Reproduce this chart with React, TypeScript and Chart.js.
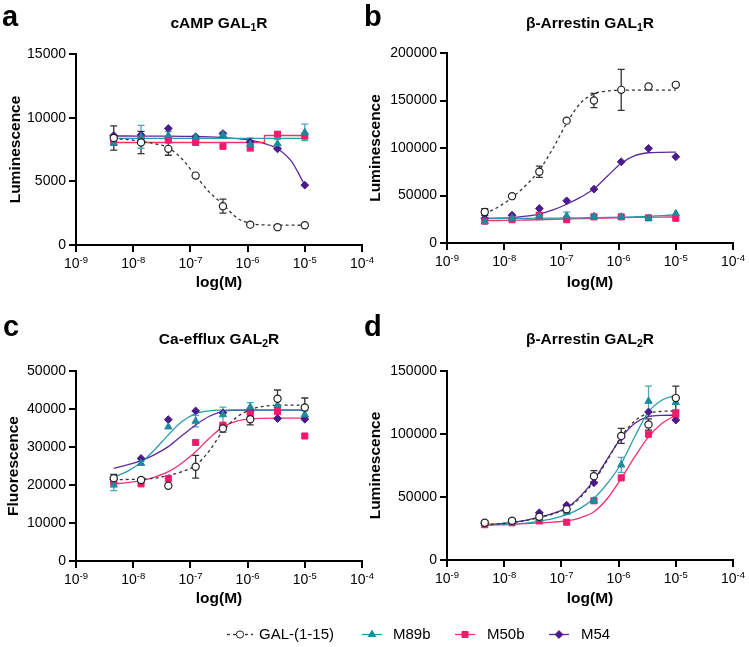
import React, { useEffect, useRef } from 'react';
import { Chart, registerables } from 'chart.js';

Chart.register(...registerables);

const FONT = '"Liberation Sans", Arial, Helvetica, sans-serif';

// ---------- shared axes data ----------
const LOG_X = [-8.34, -7.863, -7.386, -6.908, -6.431, -5.954, -5.477, -5.0];
const CURVE_X = [-8.34, -8.102, -7.863, -7.625, -7.386, -7.147, -6.908, -6.67, -6.431, -6.193, -5.954, -5.716, -5.477, -5.239, -5.0];
const X_TICK_EXPONENTS = [-9, -8, -7, -6, -5, -4];
const SERIES_NAMES = ['GAL-(1-15)', 'M89b', 'M50b', 'M54'];

// ---------- panel a : cAMP GAL1R ----------
const A_GAL = [8400, 8050, 7550, 5450, 3050, 1600, 1400, 1550];
const A_GAL_ERR = [950, 880, 500, 0, 550, 0, 0, 0];
const A_M89B = [8000, 8500, 8600, 8450, 8650, 7900, 7950, 8850];
const A_M89B_ERR = [0, 900, 300, 0, 200, 500, 350, 650];
const A_M50B = [8050, 8300, 8250, 8050, 7750, 7700, 8700, 8550];
const A_M50B_ERR = [0, 0, 0, 0, 0, 300, 0, 0];
const A_M54 = [8600, 8650, 9150, 8500, 8750, 8100, 7550, 4700];
const A_M54_ERR = [0, 0, 0, 0, 0, 0, 0, 0];
const A_GAL_FIT = [8350, 8280, 8150, 7950, 7650, 6750, 5450, 4150, 3200, 2150, 1700, 1580, 1560, 1555, 1550];
const A_M89B_FIT_X = [-8.34, -5.0];
const A_M89B_FIT = [8370, 8370];
const A_M50B_FIT_X = [-8.34, -5.71, -5.705, -5.0];
const A_M50B_FIT = [8050, 8050, 8600, 8600];
const A_M54_FIT = [8560, 8560, 8555, 8550, 8545, 8535, 8520, 8490, 8440, 8360, 8230, 7980, 7560, 6600, 4700];

// ---------- panel b : beta-Arrestin GAL1R ----------
const B_GAL = [32700, 49300, 75000, 128800, 150000, 161200, 164700, 166500];
const B_GAL_ERR = [3500, 0, 6000, 0, 7400, 21500, 0, 0];
const B_M89B = [22500, 26000, 28500, 28500, 28000, 27500, 26000, 31000];
const B_M89B_ERR = [0, 0, 4000, 4000, 2000, 0, 0, 0];
const B_M50B = [23000, 24500, 29000, 24500, 27500, 27500, 26500, 26000];
const B_M50B_ERR = [0, 0, 3000, 0, 0, 0, 0, 0];
const B_M54 = [26000, 29300, 36300, 44400, 56700, 85500, 99600, 90800];
const B_M54_ERR = [0, 0, 0, 0, 0, 0, 0, 0];
const B_GAL_FIT = [31000, 38000, 48000, 60500, 76500, 99700, 126000, 147000, 157000, 160000, 160800, 161000, 161000, 161000, 161000];
const B_M89B_FIT = [25800, 25850, 25900, 26000, 26100, 26200, 26300, 26500, 26700, 26900, 27200, 27600, 28100, 28800, 29800];
const B_M50B_FIT = [23500, 23700, 23900, 24200, 24500, 24800, 25200, 25600, 26000, 26300, 26600, 26900, 27100, 27300, 27400];
const B_M54_FIT = [25700, 26100, 26800, 28200, 30500, 34800, 40800, 48000, 57000, 70500, 84000, 92000, 95000, 95500, 95600];

// ---------- panel c : Ca-efflux GAL2R ----------
const C_GAL = [21800, 21300, 19800, 24800, 34900, 37300, 42700, 40400];
const C_GAL_ERR = [1000, 500, 0, 3000, 1000, 1500, 2300, 2500];
const C_M89B = [20000, 25700, 35300, 36800, 38500, 40500, 41000, 38500];
const C_M89B_ERR = [1500, 500, 0, 1500, 2000, 1200, 0, 1000];
const C_M50B = [20800, 20300, 21700, 31200, 35700, 38700, 39300, 32900];
const C_M50B_ERR = [0, 0, 0, 0, 0, 0, 0, 0];
const C_M54 = [21500, 27000, 37200, 39500, 39000, 39500, 37500, 37300];
const C_M54_ERR = [0, 0, 0, 0, 0, 0, 0, 0];
const C_GAL_FIT = [21400, 21450, 21550, 21800, 22500, 23500, 25200, 29000, 34200, 37800, 39800, 40700, 41000, 41000, 41000];
const C_M89B_FIT = [22000, 23600, 25900, 29300, 33200, 36700, 38800, 39500, 39700, 39750, 39750, 39750, 39750, 39750, 39750];
const C_M50B_FIT = [20300, 20600, 21150, 22100, 23500, 25800, 28750, 32300, 35300, 36800, 37400, 37550, 37600, 37600, 37600];
const C_M54_FIT = [24400, 25300, 26400, 28000, 30100, 33000, 35800, 38100, 39400, 39650, 39700, 39700, 39700, 39700, 39700];

// ---------- panel d : beta-Arrestin GAL2R ----------
const D_GAL = [29600, 31100, 34300, 40200, 66500, 98500, 107500, 128500];
const D_GAL_ERR = [1500, 1500, 2000, 2000, 4500, 6000, 4500, 9500];
const D_M89B = [29000, 30500, 33000, 38000, 47000, 75500, 126000, 125000];
const D_M89B_ERR = [0, 0, 0, 0, 1500, 6000, 12000, 0];
const D_M50B = [28000, 29500, 31000, 30000, 47000, 65200, 99800, 116000];
const D_M50B_ERR = [0, 0, 0, 0, 0, 0, 0, 3000];
const D_M54 = [29000, 30500, 37500, 43500, 61300, 97500, 117500, 111000];
const D_M54_ERR = [0, 0, 0, 0, 0, 0, 0, 0];
const D_GAL_FIT = [28000, 28700, 29700, 31300, 33700, 36500, 41000, 49500, 62500, 79500, 98000, 110500, 116500, 118000, 118300];
const D_M89B_FIT = [27500, 27800, 28300, 29200, 30800, 32800, 36000, 41000, 49000, 61000, 76600, 98000, 117500, 127000, 130700];
const D_M50B_FIT = [28000, 28200, 28500, 28900, 29400, 30000, 31000, 33500, 38300, 49000, 64700, 82000, 97700, 108500, 114900];
const D_M54_FIT = [28000, 28700, 29800, 31500, 34000, 37000, 41500, 50500, 63400, 80500, 97000, 108500, 113800, 114800, 114900];

// ---------- styles ----------
const STYLES = [
  { color: '#222222', line: '#333333', err: '#333333', fill: '#ffffff', pointStyle: 'circle', radius: 3.6, dash: [3, 3] },
  { color: '#1F8A9E', line: '#2B9AAE', err: '#45A9BC', fill: '#1F8A9E', pointStyle: 'triangle', radius: 4.2, dash: [] },
  { color: '#F5196E', line: '#F5306F', err: '#F5306F', fill: '#F5196E', pointStyle: 'rect', radius: 4.3, dash: [] },
  { color: '#4B1A8C', line: '#5A2A9C', err: '#5A2A9C', fill: '#4B1A8C', pointStyle: 'rectRot', radius: 3.9, dash: [] },
];

function series(vals: number[][], errs: number[][], fitX: number[][], fitY: number[][]) {
  return { vals, errs, fitX, fitY };
}

const PANELS = [
  {
    key: 'a', letter: 'a', letterPos: [2, 26], title: [['cAMP GAL', 0], ['1', 1], ['R', 0]], titlePos: [219, 28],
    canvas: { left: 0, top: 0, w: 375, h: 300 }, area: { left: 76, top: 54, right: 362, bottom: 245 },
    yMax: 15000, yStep: 5000, yTitle: 'Luminescence', yTitleCX: 15, xTitleCY: 283,
    data: series([A_GAL, A_M89B, A_M50B, A_M54], [A_GAL_ERR, A_M89B_ERR, A_M50B_ERR, A_M54_ERR],
      [CURVE_X, A_M89B_FIT_X, A_M50B_FIT_X, CURVE_X], [A_GAL_FIT, A_M89B_FIT, A_M50B_FIT, A_M54_FIT]),
  },
  {
    key: 'b', letter: 'b', letterPos: [364, 26], title: [['β-Arrestin GAL', 0], ['1', 1], ['R', 0]], titlePos: [590, 28],
    canvas: { left: 362, top: 0, w: 387, h: 300 }, area: { left: 447, top: 53, right: 733, bottom: 243 },
    yMax: 200000, yStep: 50000, yTitle: 'Luminescence', yTitleCX: 375.5, xTitleCY: 283,
    data: series([B_GAL, B_M89B, B_M50B, B_M54], [B_GAL_ERR, B_M89B_ERR, B_M50B_ERR, B_M54_ERR],
      [CURVE_X, CURVE_X, CURVE_X, CURVE_X], [B_GAL_FIT, B_M89B_FIT, B_M50B_FIT, B_M54_FIT]),
  },
  {
    key: 'c', letter: 'c', letterPos: [3, 336], title: [['Ca-efflux GAL', 0], ['2', 1], ['R', 0]], titlePos: [219, 344],
    canvas: { left: 0, top: 300, w: 375, h: 310 }, area: { left: 76, top: 371, right: 362, bottom: 561 },
    yMax: 50000, yStep: 10000, yTitle: 'Fluorescence', yTitleCX: 13.5, xTitleCY: 599,
    data: series([C_GAL, C_M89B, C_M50B, C_M54], [C_GAL_ERR, C_M89B_ERR, C_M50B_ERR, C_M54_ERR],
      [CURVE_X, CURVE_X, CURVE_X, CURVE_X], [C_GAL_FIT, C_M89B_FIT, C_M50B_FIT, C_M54_FIT]),
  },
  {
    key: 'd', letter: 'd', letterPos: [364, 336], title: [['β-Arrestin GAL', 0], ['2', 1], ['R', 0]], titlePos: [590, 344],
    canvas: { left: 362, top: 300, w: 387, h: 310 }, area: { left: 447, top: 371, right: 733, bottom: 560 },
    yMax: 150000, yStep: 50000, yTitle: 'Luminescence', yTitleCX: 375.5, xTitleCY: 599,
    data: series([D_GAL, D_M89B, D_M50B, D_M54], [D_GAL_ERR, D_M89B_ERR, D_M50B_ERR, D_M54_ERR],
      [CURVE_X, CURVE_X, CURVE_X, CURVE_X], [D_GAL_FIT, D_M89B_FIT, D_M50B_FIT, D_M54_FIT]),
  },
];

// ---------- plugins ----------
const errorBarsPlugin = {
  id: 'errorBars',
  beforeDatasetsDraw(chart: any) {
    const ctx = chart.ctx;
    const ys = chart.scales.y;
    chart.data.datasets.forEach((ds: any, di: number) => {
      if (!ds.errors) return;
      const meta = chart.getDatasetMeta(di);
      meta.data.forEach((pt: any, i: number) => {
        const e = ds.errors[i];
        if (!e) return;
        const v = ds.data[i].y;
        const y1 = ys.getPixelForValue(v + e);
        const y2 = ys.getPixelForValue(v - e);
        const x = pt.x;
        ctx.save();
        ctx.strokeStyle = ds.errorColor;
        ctx.lineWidth = 1.3;
        ctx.beginPath();
        ctx.moveTo(x, y1); ctx.lineTo(x, y2);
        ctx.moveTo(x - 3.5, y1); ctx.lineTo(x + 3.5, y1);
        ctx.moveTo(x - 3.5, y2); ctx.lineTo(x + 3.5, y2);
        ctx.stroke();
        ctx.restore();
      });
    });
  },
};

const decorPlugin = {
  id: 'panelDecor',
  afterDraw(chart: any, _a: any, opts: any) {
    const p = opts.panel;
    if (!p) return;
    const ctx = chart.ctx;
    const ox = p.canvas.left, oy = p.canvas.top;
    ctx.save();
    ctx.fillStyle = '#000';
    ctx.textBaseline = 'alphabetic';
    // panel letter
    ctx.textAlign = 'left';
    ctx.font = `bold 29px ${FONT}`;
    ctx.fillText(p.letter, p.letterPos[0] - ox, p.letterPos[1] - oy);
    // title with subscript
    const mainF = `bold 15.5px ${FONT}`;
    const subF = `bold 10.5px ${FONT}`;
    let total = 0;
    p.title.forEach(([t, s]: any) => { ctx.font = s ? subF : mainF; total += ctx.measureText(t).width; });
    let x = p.titlePos[0] - ox - total / 2;
    const by = p.titlePos[1] - oy;
    p.title.forEach(([t, s]: any) => {
      ctx.font = s ? subF : mainF;
      ctx.fillText(t, x, s ? by + 3 : by);
      x += ctx.measureText(t).width;
    });
    // x tick labels 10^n
    const xs = chart.scales.x;
    const base = chart.chartArea.bottom + 23;
    const bigF = `14px ${FONT}`;
    const expF = `9.5px ${FONT}`;
    X_TICK_EXPONENTS.forEach((e) => {
      const px = xs.getPixelForValue(e);
      ctx.font = bigF;
      const w1 = ctx.measureText('10').width;
      ctx.font = expF;
      const es = String(e);
      const w2 = ctx.measureText(es).width;
      const sx = px - (w1 + w2) / 2;
      ctx.font = bigF;
      ctx.fillText('10', sx, base);
      ctx.font = expF;
      ctx.fillText(es, sx + w1, base - 5.5);
    });
    ctx.restore();
  },
};

function buildConfig(p: any) {
  const datasets: any[] = [];
  p.data.vals.forEach((vals: number[], si: number) => {
    const st = STYLES[si];
    datasets.push({
      label: SERIES_NAMES[si],
      data: LOG_X.map((x, i) => ({ x, y: vals[i] })),
      errors: p.data.errs[si],
      errorColor: st.err,
      showLine: false,
      pointStyle: st.pointStyle,
      pointRadius: st.radius,
      pointBackgroundColor: st.fill,
      pointBorderColor: st.color,
      pointBorderWidth: si === 0 ? 1.2 : 1,
    });
  });
  p.data.fitY.forEach((ys: number[], si: number) => {
    const st = STYLES[si];
    const xs = p.data.fitX[si];
    const stepLike = xs.length <= 4;
    datasets.push({
      label: SERIES_NAMES[si] + ' fit',
      data: xs.map((x: number, i: number) => ({ x, y: ys[i] })),
      showLine: true,
      pointRadius: 0,
      borderColor: st.line,
      borderWidth: 1.3,
      borderDash: st.dash,
      fill: false,
      tension: 0,
      cubicInterpolationMode: stepLike ? 'default' : 'monotone',
    });
  });

  const c = p.canvas, a = p.area;
  const yW = a.left - c.left;
  const xH = c.top + c.h - a.bottom;
  const padTop = a.top - c.top;
  const padRight = c.left + c.w - a.right;
  const yTitlePad = p.yTitleCX - c.left - 9;
  const xTitlePad = c.h - (p.xTitleCY - c.top) - 9;

  const axisCommon = {
    grid: { display: true, drawOnChartArea: false, drawTicks: true, tickLength: 7, color: '#000', lineWidth: 2 },
    border: { display: true, color: '#000', width: 2 },
  };

  return {
    type: 'scatter',
    data: { datasets },
    plugins: [errorBarsPlugin, decorPlugin],
    options: {
      animation: false,
      responsive: false,
      devicePixelRatio: 1,
      layout: { padding: { left: 0, top: padTop, right: padRight, bottom: 0 } },
      plugins: {
        legend: { display: false },
        tooltip: { enabled: false },
        panelDecor: { panel: p },
      },
      scales: {
        x: {
          type: 'linear', min: -9, max: -4,
          ...axisCommon,
          ticks: { stepSize: 1, callback: () => '', font: { family: FONT, size: 14 } },
          title: { display: true, text: 'log(M)', color: '#000', font: { family: FONT, size: 15.5, weight: 'bold' }, padding: { top: 0, bottom: xTitlePad } },
          afterFit: (s: any) => { s.height = xH; },
        },
        y: {
          type: 'linear', min: 0, max: p.yMax,
          ...axisCommon,
          ticks: { stepSize: p.yStep, callback: (v: any) => String(v), color: '#000', padding: 3, font: { family: FONT, size: 14 } },
          title: { display: true, text: p.yTitle, color: '#000', font: { family: FONT, size: 15.5, weight: 'bold' }, padding: { top: yTitlePad, bottom: 0 } },
          afterFit: (s: any) => { s.width = yW; },
        },
      },
    },
  };
}

// ---------- legend ----------
const LEGEND_CANVAS = { left: 200, top: 615, w: 440, h: 32 };
const LEGEND_ITEMS = [
  { x1: 227, x2: 253, tx: 259 },
  { x1: 362, x2: 382, tx: 393 },
  { x1: 455, x2: 475, tx: 487 },
  { x1: 549, x2: 569, tx: 581 },
];
const LEGEND_Y = 634.5;

function drawMarker(ctx: any, st: any, x: number, y: number) {
  const r = st.radius;
  ctx.beginPath();
  if (st.pointStyle === 'circle') {
    ctx.arc(x, y, r, 0, Math.PI * 2);
  } else if (st.pointStyle === 'triangle') {
    for (let k = 0; k < 3; k++) {
      const ang = k * (2 * Math.PI / 3);
      const px = x + Math.sin(ang) * r, py = y - Math.cos(ang) * r;
      if (k === 0) ctx.moveTo(px, py); else ctx.lineTo(px, py);
    }
    ctx.closePath();
  } else if (st.pointStyle === 'rect') {
    const s = r * Math.SQRT1_2;
    ctx.rect(x - s, y - s, 2 * s, 2 * s);
  } else {
    ctx.moveTo(x - r, y); ctx.lineTo(x, y - r); ctx.lineTo(x + r, y); ctx.lineTo(x, y + r); ctx.closePath();
  }
  ctx.fillStyle = st.fill;
  ctx.fill();
  ctx.strokeStyle = st.color;
  ctx.lineWidth = 1;
  ctx.stroke();
}

const legendPlugin = {
  id: 'customLegend',
  afterDraw(chart: any) {
    const ctx = chart.ctx;
    const ox = LEGEND_CANVAS.left, oy = LEGEND_CANVAS.top;
    chart.data.datasets.forEach((ds: any, i: number) => {
      const st = STYLES[i];
      const it = LEGEND_ITEMS[i];
      const y = LEGEND_Y - oy;
      ctx.save();
      ctx.strokeStyle = st.line;
      ctx.lineWidth = 1.3;
      ctx.setLineDash(st.dash);
      ctx.beginPath();
      ctx.moveTo(it.x1 - ox, y); ctx.lineTo(it.x2 - ox, y);
      ctx.stroke();
      ctx.setLineDash([]);
      drawMarker(ctx, st, (it.x1 + it.x2) / 2 - ox, y);
      ctx.fillStyle = '#000';
      ctx.font = `15px ${FONT}`;
      ctx.textBaseline = 'middle';
      ctx.textAlign = 'left';
      ctx.fillText(ds.label, it.tx - ox, y + 0.5);
      ctx.restore();
    });
  },
};

function LegendChart() {
  const ref = useRef<HTMLCanvasElement>(null);
  useEffect(() => {
    const chart = new Chart(ref.current as HTMLCanvasElement, {
      type: 'scatter',
      data: { datasets: SERIES_NAMES.map((n) => ({ label: n, data: [] })) },
      plugins: [legendPlugin],
      options: {
        animation: false, responsive: false, devicePixelRatio: 1,
        plugins: { legend: { display: false }, tooltip: { enabled: false } },
        scales: { x: { display: false }, y: { display: false } },
      },
    } as any);
    return () => chart.destroy();
  }, []);
  const c = LEGEND_CANVAS;
  return <canvas ref={ref} width={c.w} height={c.h} style={{ position: 'absolute', left: c.left, top: c.top, width: c.w, height: c.h }} />;
}

function Panel({ p }: { p: any }) {
  const ref = useRef<HTMLCanvasElement>(null);
  useEffect(() => {
    const chart = new Chart(ref.current as HTMLCanvasElement, buildConfig(p) as any);
    return () => chart.destroy();
  }, []);
  const c = p.canvas;
  return <canvas ref={ref} width={c.w} height={c.h} style={{ position: 'absolute', left: c.left, top: c.top, width: c.w, height: c.h }} />;
}

export default function App() {
  return (
    <div style={{ position: 'absolute', left: 0, top: 0, width: 749, height: 647, background: '#fff', overflow: 'hidden' }}>
      {PANELS.map((p) => <Panel key={p.key} p={p} />)}
      <LegendChart />
    </div>
  );
}
